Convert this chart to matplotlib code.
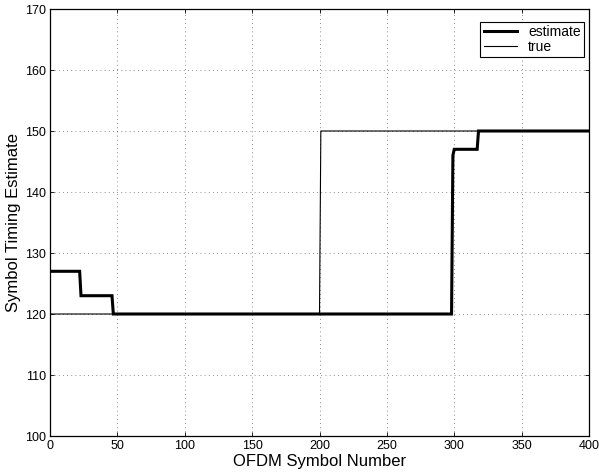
import matplotlib
matplotlib.use("Agg")
import matplotlib.pyplot as plt

# symbol timing: estimator output vs. true offset
est_x = [0, 22, 23, 46, 47, 298, 299, 300, 317, 318, 400]
est_y = [127, 127, 123, 123, 120, 120, 146, 147, 147, 150, 150]
true_x = [0, 200, 201, 400]
true_y = [120, 120, 150, 150]

xticks = [0, 50, 100, 150, 200, 250, 300, 350, 400]
yticks = [100, 110, 120, 130, 140, 150, 160, 170]

plt.rcParams['font.family'] = ['Liberation Sans', 'DejaVu Sans']

fig = plt.figure(figsize=(5.99, 4.73), dpi=100)
ax = fig.add_axes([50 / 599, 37 / 473, 539 / 599, 427 / 473])

ax.plot(est_x, est_y, color='k', linewidth=2.2, label='estimate', solid_joinstyle='miter')
ax.plot(true_x, true_y, color='k', linewidth=0.8, label='true')

ax.set_xlim(0, 400)
ax.set_ylim(100, 170)
ax.set_xticks(xticks)
ax.set_yticks(yticks)
ax.tick_params(direction='in', top=True, right=True, labelsize=9, length=3, width=0.6, pad=3)
ax.grid(True, linestyle=(0, (1, 4)), color='k', linewidth=0.6, alpha=0.6)
for s in ax.spines.values():
    s.set_linewidth(0.9)

ax.set_xlabel('OFDM Symbol Number', fontsize=12, labelpad=1)
ax.set_ylabel('Symbol Timing Estimate', fontsize=12, labelpad=3)

leg = ax.legend(loc='upper right', bbox_to_anchor=(0.991, 0.97), fontsize=10,
                fancybox=False, framealpha=1, edgecolor='k', borderaxespad=0,
                handlelength=2.4, handletextpad=0.8, borderpad=0.25,
                labelspacing=0.05)
leg.get_frame().set_linewidth(0.8)

fig.savefig('out.png', dpi=100)
